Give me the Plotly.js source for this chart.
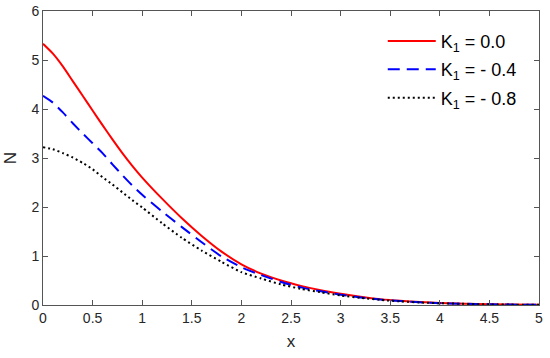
<!DOCTYPE html>
<html>
<head>
<meta charset="utf-8">
<script src="https://cdn.plot.ly/plotly-3.0.1.min.js"></script>
<style>html,body{margin:0;padding:0;background:#fff;}#chart{width:550px;height:358px;}</style>
</head>
<body>
<div id="chart"></div>
<script>
const xVals = [0, 0.1, 0.2, 0.3, 0.4, 0.5, 0.6, 0.7, 0.8, 0.9, 1.0, 1.2, 1.4, 1.6, 1.8, 2.0, 2.2, 2.4, 2.6, 2.8, 3.0, 3.2, 3.4, 3.6, 3.8, 4.0, 4.5, 5.0];
const nK00 = [5.33, 5.13, 4.87, 4.57, 4.27, 3.97, 3.67, 3.38, 3.10, 2.84, 2.60, 2.17, 1.77, 1.41, 1.09, 0.83, 0.64, 0.50, 0.39, 0.30, 0.23, 0.17, 0.12, 0.085, 0.06, 0.04, 0.015, 0.005];
const nK04 = [4.27, 4.13, 3.93, 3.71, 3.50, 3.30, 3.10, 2.87, 2.65, 2.44, 2.25, 1.91, 1.59, 1.28, 0.99, 0.77, 0.61, 0.47, 0.36, 0.28, 0.21, 0.155, 0.11, 0.08, 0.055, 0.038, 0.013, 0.004];
const nK08 = [3.22, 3.18, 3.10, 3.01, 2.90, 2.77, 2.61, 2.46, 2.30, 2.14, 1.99, 1.67, 1.37, 1.11, 0.88, 0.67, 0.54, 0.42, 0.33, 0.26, 0.195, 0.145, 0.105, 0.075, 0.052, 0.036, 0.012, 0.004];
const seriesNames = ['K<sub>1</sub> = 0.0', 'K<sub>1</sub> = - 0.4', 'K<sub>1</sub> = - 0.8'];
const xTicks = [0, 0.5, 1, 1.5, 2, 2.5, 3, 3.5, 4, 4.5, 5];
const xTickText = ['0', '0.5', '1', '1.5', '2', '2.5', '3', '3.5', '4', '4.5', '5'];
const yTicks = [0, 1, 2, 3, 4, 5, 6];

const traces = [
  {x: xVals, y: nK00, name: seriesNames[0], legendgroup: 'a', mode: 'lines', line: {color: '#ff0000', width: 2, shape: 'spline', smoothing: 0.6}},
  {x: xVals, y: nK04, name: seriesNames[1], legendgroup: 'b', mode: 'lines', line: {color: '#0000ff', width: 2, dash: '12px,7px', shape: 'spline', smoothing: 0.6}},
  {x: xVals, y: nK08, name: seriesNames[2], legendgroup: 'c', mode: 'lines', line: {color: '#000000', width: 2, dash: '2px,3px', shape: 'spline', smoothing: 0.6}}
];

const fontFam = 'Liberation Sans, Arial, sans-serif';
const axisCommon = {
  showgrid: false, zeroline: false, showline: true, linecolor: '#555555', linewidth: 1,
  mirror: 'ticks', ticks: 'inside', ticklen: 5, tickcolor: '#555555',
  tickfont: {family: fontFam, size: 14, color: '#262626'}
};

const layout = {
  width: 550, height: 358,
  margin: {l: 43, r: 11, t: 11, b: 53},
  paper_bgcolor: '#ffffff', plot_bgcolor: '#ffffff',
  showlegend: true,
  legend: {x: 0.685, y: 0.96, xanchor: 'left', yanchor: 'top', bgcolor: 'rgba(0,0,0,0)', borderwidth: 0,
           font: {family: fontFam, size: 18, color: '#000000'}, tracegroupgap: 2, itemwidth: 48},
  xaxis: Object.assign({}, axisCommon, {range: [0, 5], tickvals: xTicks, ticktext: xTickText,
    title: {text: 'x', font: {family: fontFam, size: 17, color: '#262626'}, standoff: 10}}),
  yaxis: Object.assign({}, axisCommon, {range: [0, 6], tickvals: yTicks,
    title: {text: 'N', font: {family: fontFam, size: 17, color: '#262626'}, standoff: 10}})
};

Plotly.newPlot('chart', traces, layout, {displayModeBar: false, staticPlot: true});
</script>
</body>
</html>
